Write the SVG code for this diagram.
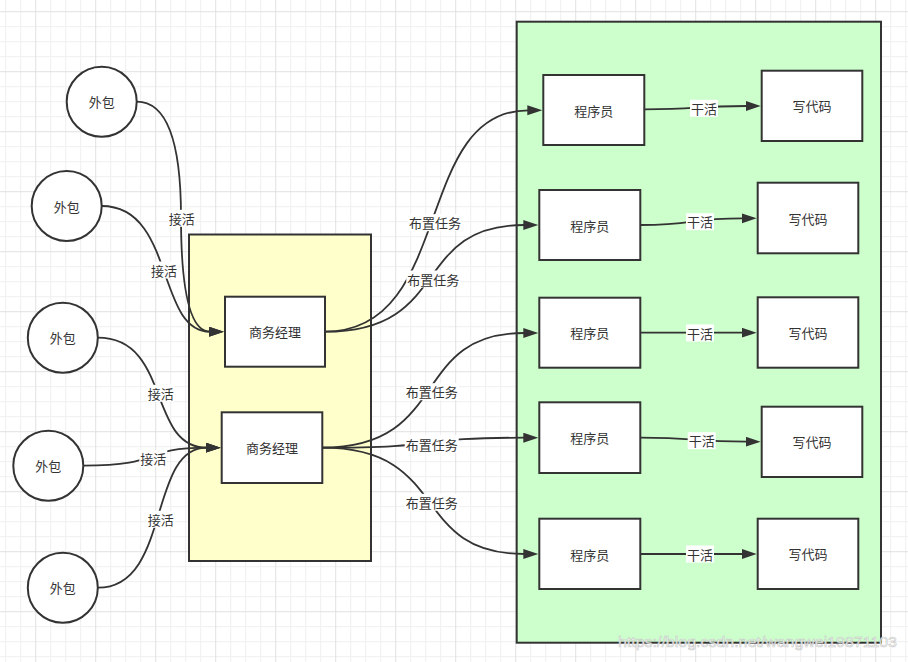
<svg xmlns="http://www.w3.org/2000/svg" width="908" height="662" viewBox="0 0 908 662">
<style>
.box{fill:#ffffff;stroke:#333333;stroke-width:2}
.circ{fill:#ffffff;stroke:#333333;stroke-width:2}
.yel{fill:#ffffcc;stroke:#333333;stroke-width:2}
.grn{fill:#ccffcc;stroke:#333333;stroke-width:2}
.t{font-family:"Noto Sans CJK SC","Noto Sans",sans-serif;font-size:13px;fill:#333333;text-anchor:middle;dominant-baseline:central}
.e{fill:none;stroke:#333333;stroke-width:1.8;marker-end:url(#arr)}
.lb{fill:#ffffff}
.wm{font-family:"Liberation Sans",Arial,sans-serif;font-size:15px;fill:#ffffff;stroke:#c4c4c4;stroke-width:0.6;opacity:0.9}
</style>
<defs>
<pattern id="grid" width="60" height="60" patternUnits="userSpaceOnUse" x="35.2" y="11.2">
<path d="M15.5,0V60M30.5,0V60M45.5,0V60M0,15.5H60M0,30.5H60M0,45.5H60" stroke="#efefef" stroke-width="1" fill="none"/>
<path d="M0.5,0V60M0,0.5H60" stroke="#e1e1e1" stroke-width="1" fill="none"/>
</pattern>
<marker id="arr" markerUnits="userSpaceOnUse" markerWidth="16" markerHeight="11" refX="1" refY="5" orient="auto">
<path d="M0,0 L15,5 L0,10 Z" fill="#333333"/>
</marker>
</defs>
<rect x="0" y="0" width="908" height="662" fill="#ffffff"/>
<rect x="0" y="0" width="908" height="662" fill="url(#grid)"/>

<g id="container-yellow"><rect class="yel" x="189" y="234.5" width="182" height="326.5"/></g>
<g id="container-green"><rect class="grn" x="516.7" y="21.7" width="364.3" height="621"/></g>

<g id="connectors">
<path class="e" d="M136.7,101.7 Q181,101.7 181,216.7 Q181,331.7 210,331.7"/>
<path class="e" d="M101.7,206 C175.1,206 156,331.7 210,331.7"/>
<path class="e" d="M97.8,337.7 C171.5,337.7 147.2,447.7 206.7,447.7"/>
<path class="e" d="M83.3,465.7 C165.7,465.7 138.3,447.7 206.7,447.7"/>
<path class="e" d="M97.8,587.7 C171.5,587.7 147.2,447.7 206.7,447.7"/>

<path class="e" d="M325,331.7 C455.4,331.7 411.9,110.3 528.3,110.3"/>
<path class="e" d="M325,331.7 C453,331.7 410.3,225 524.3,225"/>
<path class="e" d="M322.3,447.7 C451.9,447.7 408.7,333 524.3,333"/>
<path class="e" d="M322.3,447.7 C451.9,447.7 408.7,437.7 524.3,437.7"/>
<path class="e" d="M322.3,447.7 C451.9,447.7 408.7,554 524.3,554"/>

<path class="e" d="M644.3,109.3 C702,109.3 690,106 746.7,106"/>
<path class="e" d="M640.3,225 C698,225 686,218.3 742.7,218.3"/>
<path class="e" d="M640.3,332.7 L742.7,332.7"/>
<path class="e" d="M640.3,437.7 C698,437.7 690,441.7 746.7,441.7"/>
<path class="e" d="M640.3,554 L742.7,554"/>

<rect class="lb" x="167.7" y="209.8" width="28" height="17"/><text class="t" x="181.7" y="218.3">接活</text>
<rect class="lb" x="150" y="261.5" width="28" height="17"/><text class="t" x="164" y="270">接活</text>
<rect class="lb" x="146.7" y="384.8" width="28" height="17"/><text class="t" x="160.7" y="393.3">接活</text>
<rect class="lb" x="139.3" y="449.8" width="28" height="17"/><text class="t" x="153.3" y="458.3">接活</text>
<rect class="lb" x="146.7" y="510.8" width="28" height="17"/><text class="t" x="160.7" y="519.3">接活</text>

<rect class="lb" x="408" y="214.2" width="54" height="17"/><text class="t" x="435" y="222.7">布置任务</text>
<rect class="lb" x="406.3" y="270.5" width="54" height="17"/><text class="t" x="433.3" y="279">布置任务</text>
<rect class="lb" x="404.7" y="383.2" width="54" height="17"/><text class="t" x="431.7" y="391.7">布置任务</text>
<rect class="lb" x="404.7" y="435.5" width="54" height="17"/><text class="t" x="431.7" y="444">布置任务</text>
<rect class="lb" x="404.7" y="493.8" width="54" height="17"/><text class="t" x="431.7" y="502.3">布置任务</text>

<rect class="lb" x="690" y="99.8" width="28" height="17"/><text class="t" x="704" y="108.3">干活</text>
<rect class="lb" x="686" y="213.2" width="28" height="17"/><text class="t" x="700" y="221.7">干活</text>
<rect class="lb" x="686" y="324.5" width="28" height="17"/><text class="t" x="700" y="333">干活</text>
<rect class="lb" x="687.7" y="432.2" width="28" height="17"/><text class="t" x="701.7" y="440.7">干活</text>
<rect class="lb" x="686" y="545.5" width="28" height="17"/><text class="t" x="700" y="554">干活</text>
</g>

<g id="out1"><circle class="circ" cx="101.7" cy="101.7" r="35"/><text class="t" x="101.7" y="101.7">外包</text></g>
<g id="out2"><circle class="circ" cx="66.7" cy="206" r="35"/><text class="t" x="66.7" y="206">外包</text></g>
<g id="out3"><circle class="circ" cx="62.8" cy="337.7" r="35"/><text class="t" x="62.8" y="337.7">外包</text></g>
<g id="out4"><circle class="circ" cx="48.3" cy="465.7" r="35"/><text class="t" x="48.3" y="465.7">外包</text></g>
<g id="out5"><circle class="circ" cx="62.8" cy="587.7" r="35"/><text class="t" x="62.8" y="587.7">外包</text></g>

<g id="mgr1"><rect class="box" x="225" y="296.7" width="100" height="70"/><text class="t" x="275" y="331.7">商务经理</text></g>
<g id="mgr2"><rect class="box" x="221.7" y="412.3" width="100.6" height="70.7"/><text class="t" x="272" y="447.7">商务经理</text></g>

<g id="dev1"><rect class="box" x="543.3" y="75" width="101" height="70"/><text class="t" x="593.8" y="110">程序员</text></g>
<g id="dev2"><rect class="box" x="539.3" y="190" width="101" height="70"/><text class="t" x="589.8" y="225">程序员</text></g>
<g id="dev3"><rect class="box" x="539.3" y="297.7" width="101" height="70"/><text class="t" x="589.8" y="332.7">程序员</text></g>
<g id="dev4"><rect class="box" x="539.3" y="402.3" width="101" height="70.7"/><text class="t" x="589.8" y="437.7">程序员</text></g>
<g id="dev5"><rect class="box" x="539.3" y="518.7" width="101" height="70.3"/><text class="t" x="589.8" y="554">程序员</text></g>

<g id="code1"><rect class="box" x="761.7" y="70.7" width="100.6" height="70.3"/><text class="t" x="812" y="105.8">写代码</text></g>
<g id="code2"><rect class="box" x="757.7" y="182.7" width="100.6" height="70.6"/><text class="t" x="808" y="218">写代码</text></g>
<g id="code3"><rect class="box" x="757.7" y="297.3" width="100.6" height="70.4"/><text class="t" x="808" y="332.5">写代码</text></g>
<g id="code4"><rect class="box" x="761.7" y="406.7" width="100.6" height="70.3"/><text class="t" x="812" y="441.8">写代码</text></g>
<g id="code5"><rect class="box" x="757.7" y="518.7" width="100.6" height="70.3"/><text class="t" x="808" y="553.8">写代码</text></g>

<text class="wm" x="618" y="647" textLength="279" lengthAdjust="spacingAndGlyphs">https://blog.csdn.net/wangwei19871103</text>
</svg>
